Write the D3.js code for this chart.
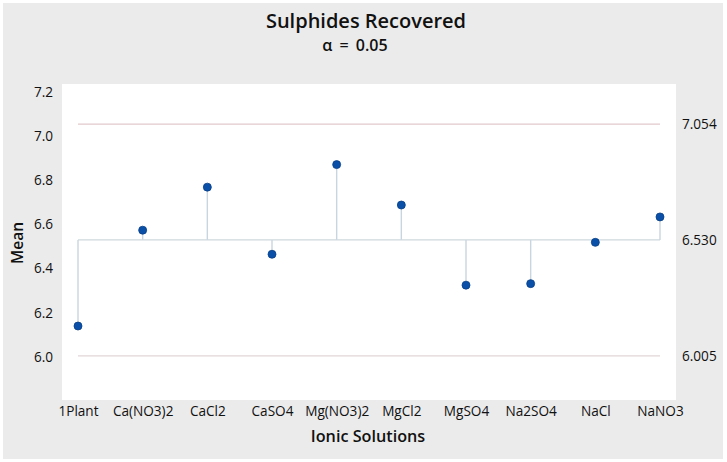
<!DOCTYPE html>
<html>
<head>
<meta charset="utf-8">
<script src="https://cdn.jsdelivr.net/npm/d3@7"></script>
<style>
  html, body { margin: 0; padding: 0; background: #fff; }
  svg { display: block; }
  text { font-family: "Open Sans", "Noto Sans", sans-serif; fill: #111; }
</style>
</head>
<body>
<svg id="chart" width="727" height="462"></svg>
<script>
const categories = ["1Plant", "Ca(NO3)2", "CaCl2", "CaSO4", "Mg(NO3)2", "MgCl2", "MgSO4", "Na2SO4", "NaCl", "NaNO3"];
const means = [6.14, 6.574, 6.769, 6.465, 6.871, 6.688, 6.325, 6.332, 6.519, 6.634];
const centerLine = 6.530;
const upperLimit = 7.054;
const lowerLimit = 6.005;
const yTicks = [6.0, 6.2, 6.4, 6.6, 6.8, 7.0, 7.2];
const limitLabels = ["7.054", "6.530", "6.005"];
const limitValues = [upperLimit, centerLine, lowerLimit];
const titleText = "Sulphides Recovered";
const subtitleText = "α = 0.05";
const xTitle = "Ionic Solutions";
const yTitle = "Mean";

const plot = { left: 62, right: 676, top: 84, bottom: 400 };
const svg = d3.select("#chart");
const tickFont = "\"Open Sans\", sans-serif";

// outer gray panel
svg.append("rect").attr("x", 3).attr("y", 3).attr("width", 720).attr("height", 456).attr("fill", "#ebebeb");
// plot area
svg.append("rect").attr("x", plot.left).attr("y", plot.top)
  .attr("width", plot.right - plot.left).attr("height", plot.bottom - plot.top).attr("fill", "#ffffff");

const y = d3.scaleLinear().domain([5.805, 7.236]).range([plot.bottom, plot.top]);
const x = d3.scalePoint().domain(categories).range([plot.left + 16, plot.right - 16]);

// limit lines
const x0 = x(categories[0]), x1 = x(categories[categories.length - 1]);
svg.append("line").attr("x1", x0).attr("x2", x1).attr("y1", y(upperLimit)).attr("y2", y(upperLimit))
  .attr("stroke", "#e2c9cd").attr("stroke-width", 1.3);
svg.append("line").attr("x1", x0).attr("x2", x1).attr("y1", y(lowerLimit)).attr("y2", y(lowerLimit))
  .attr("stroke", "#e2d6d8").attr("stroke-width", 1.3);
svg.append("line").attr("x1", x0).attr("x2", x1).attr("y1", y(centerLine)).attr("y2", y(centerLine))
  .attr("stroke", "#cfd8de").attr("stroke-width", 1.4);

// stems
svg.append("g").selectAll("line").data(categories).join("line")
  .attr("x1", d => x(d)).attr("x2", d => x(d))
  .attr("y1", y(centerLine)).attr("y2", (d, i) => y(means[i]))
  .attr("stroke", "#c9d6e0").attr("stroke-width", 1.4);

// points
svg.append("g").selectAll("circle").data(categories).join("circle")
  .attr("cx", d => x(d)).attr("cy", (d, i) => y(means[i]))
  .attr("r", 4).attr("fill", "#0a50a8").attr("stroke", "#073f86").attr("stroke-width", 0.8);

function styleTicks(g) {
  g.select(".domain").remove();
  g.selectAll("text").style("font-size", "13.6px").style("font-family", tickFont)
    .style("font-weight", "500").attr("fill", "#111");
}

// y axis (left)
const yAxis = d3.axisLeft(y).tickValues(yTicks).tickFormat(d3.format(".1f")).tickSize(0).tickPadding(9);
svg.append("g").attr("transform", `translate(${plot.left},0)`).call(yAxis).call(styleTicks);

// x axis
const xAxis = d3.axisBottom(x).tickSize(0).tickPadding(6);
svg.append("g").attr("transform", `translate(0,${plot.bottom})`).call(xAxis).call(styleTicks);

// right labels for limits
const yRight = d3.axisRight(y).tickValues(limitValues).tickFormat((d, i) => limitLabels[i]).tickSize(0).tickPadding(6);
svg.append("g").attr("transform", `translate(${plot.right},0)`).call(yRight).call(styleTicks);

// titles
svg.append("text").attr("x", 366).attr("y", 28).attr("text-anchor", "middle")
  .style("font-size", "20px").style("font-weight", "600").text(titleText);
svg.append("text").attr("x", 355).attr("y", 51).attr("text-anchor", "middle")
  .style("font-size", "16px").style("font-weight", "600").style("word-spacing", "3px").text(subtitleText);
svg.append("text").attr("x", 368).attr("y", 442).attr("text-anchor", "middle")
  .style("font-size", "16.2px").style("font-weight", "600").text(xTitle);
svg.append("text").attr("transform", `translate(23,${(plot.top + plot.bottom) / 2 + 1}) rotate(-90)`)
  .attr("text-anchor", "middle").style("font-size", "15.5px").style("font-weight", "600").text(yTitle);
</script>
</body>
</html>
